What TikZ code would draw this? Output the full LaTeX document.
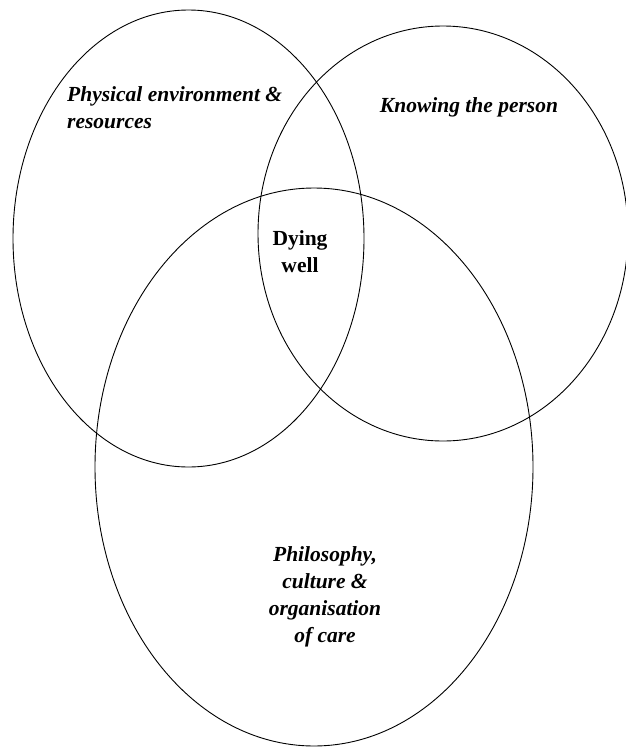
\documentclass[tikz,border=0pt]{standalone}
\usepackage{fontspec}
\setmainfont{Liberation Serif}
\begin{document}
\begin{tikzpicture}[x=1pt,y=-1pt,
  ring/.style={draw=black, line width=0.9pt},
  lbl/.style={font=\fontsize{21.5}{27}\selectfont\bfseries\itshape, align=center, inner sep=0pt},
  lblL/.style={font=\fontsize{21.5}{27}\selectfont\bfseries\itshape, align=left, inner sep=0pt, anchor=west},
  core/.style={font=\fontsize{21.5}{27}\selectfont\bfseries, align=center, inner sep=0pt}]
\useasboundingbox (0,0) rectangle (626,750);
\begin{scope}
\clip (0,0) rectangle (626,750);
\draw[ring] (188.5,238.5) ellipse [x radius=175.5, y radius=228.5];
\draw[ring] (443,233.5) ellipse [x radius=185, y radius=207.5];
\draw[ring] (314,467) ellipse [x radius=219, y radius=279];
\end{scope}
\node[lblL] (phys) at (67,108) {Physical environment \&\\resources};
\node[lbl] (know) at (469,107) {Knowing the person};
\node[core] (dying) at (300,252) {Dying\\well};
\node[lbl] (phil) at (325,597) {Philosophy,\\culture \&\\organisation\\of care};
\end{tikzpicture}
\end{document}
